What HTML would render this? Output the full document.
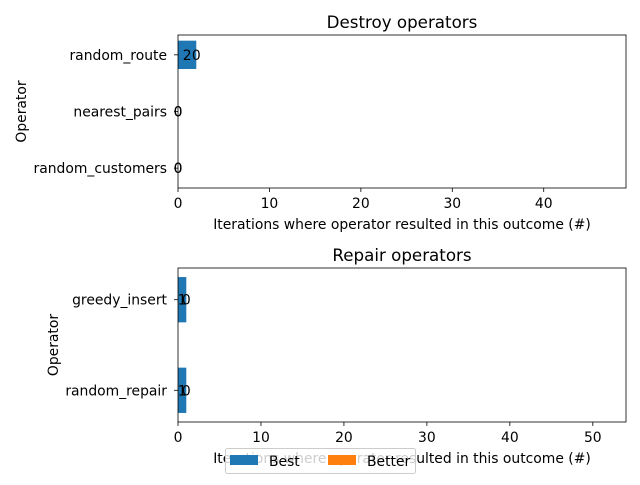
<!DOCTYPE html>
<html><head><meta charset="utf-8"><style>
body{margin:0;background:#fff;}
svg text{font-family:"DejaVu Sans","Liberation Sans",sans-serif;fill:#000;}
</style></head><body>
<svg id="c" width="640" height="480" viewBox="0 0 640 480" xmlns="http://www.w3.org/2000/svg"></svg>
<script>
const destroyCats = ["random_route","nearest_pairs","random_customers"];
const destroyBest = [2,0,0];
const destroyBetter = [0,0,0];
const destroyTicks = [0,10,20,30,40];
const repairCats = ["greedy_insert","random_repair"];
const repairBest = [1,1];
const repairBetter = [0,0];
const repairTicks = [0,10,20,30,40,50];
const NS="http://www.w3.org/2000/svg";
const svg=document.getElementById('c');
const FS=13.9;
function mk(t,a,txt){const e=document.createElementNS(NS,t);for(const k in a)e.setAttribute(k,a[k]);if(txt!==undefined)e.textContent=txt;svg.appendChild(e);return e;}
function panel(key,title,cats,best,better,ticks,xmax,top,bottom,ylabX){
  const L=178,R=626;
  const sx=v=>L+(v/xmax)*(R-L);
  const n=cats.length;
  const p=0.35;
  const step=(bottom-top)/(n-1+2*p);
  const sy=i=>top+p*step+i*step;
  const bh=step*0.5;
  let e;
  for(let i=0;i<n;i++){
    e=mk('rect',{x:sx(0),y:sy(i)-bh/2,width:sx(best[i])-sx(0),height:bh,fill:'#1f77b4'});
    
    
    e=mk('rect',{x:sx(best[i]),y:sy(i)-bh/2,width:sx(best[i]+better[i])-sx(best[i]),height:bh,fill:'#ff7f0e'});
    
    
    e=mk('text',{x:(sx(0)+sx(best[i]))/2,y:sy(i)+5,'font-size':FS,'text-anchor':'middle'},String(best[i]));
    
    
    e=mk('text',{x:(sx(best[i])+sx(best[i]+better[i]))/2,y:sy(i)+5,'font-size':FS,'text-anchor':'middle'},String(better[i]));
    
    
    mk('line',{x1:L-4,x2:L,y1:sy(i),y2:sy(i),stroke:'#000','stroke-width':0.8});
    e=mk('text',{x:L-11,y:sy(i)+5,'font-size':FS,'text-anchor':'end'},cats[i]);
    
    
  }
  ticks.forEach(t=>{
    mk('line',{x1:sx(t),x2:sx(t),y1:bottom,y2:bottom+4,stroke:'#000','stroke-width':0.8});
    e=mk('text',{x:sx(t),y:bottom+20,'font-size':FS,'text-anchor':'middle'},String(t));
    
    
  });
  e=mk('rect',{x:L,y:top,width:R-L,height:bottom-top,fill:'none',stroke:'#000','stroke-width':0.8});
  
  
  e=mk('text',{x:(L+R)/2,y:top-7,'font-size':16.7,'text-anchor':'middle'},title);
  
  
  e=mk('text',{x:(L+R)/2,y:bottom+41,'font-size':FS,'text-anchor':'middle'},'Iterations where operator resulted in this outcome (#)');
  
  
  const cy=(top+bottom)/2;
  e=mk('text',{x:ylabX,y:cy,'font-size':FS,'text-anchor':'middle',transform:`rotate(-90 ${ylabX} ${cy})`},'Operator');
  
  
}
panel('destroy','Destroy operators',destroyCats,destroyBest,destroyBetter,destroyTicks,49,35,188,26);
panel('repair','Repair operators',repairCats,repairBest,repairBetter,repairTicks,54,268,422,58);
let g=mk('rect',{x:225.5,y:448.5,width:190,height:25,rx:2,fill:'#fff','fill-opacity':0.8,stroke:'#ccc'});


mk('rect',{x:230,y:455,width:28,height:10,fill:'#1f77b4'});
g=mk('text',{x:269,y:466,'font-size':FS},'Best');


mk('rect',{x:328,y:455,width:28,height:10,fill:'#ff7f0e'});
g=mk('text',{x:367,y:466,'font-size':FS},'Better');


</script>
</body></html>
